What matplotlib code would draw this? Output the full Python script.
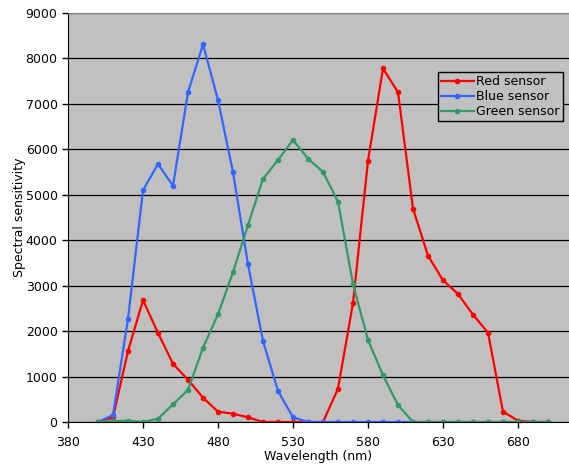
import matplotlib
matplotlib.use("Agg")
import matplotlib.pyplot as plt

wavelengths = list(range(400, 710, 10))
red = [0, 100, 1560, 2680, 1960, 1280, 930, 535, 227, 183, 103, 0, 0, 0, 0, 0,
       734, 2620, 5750, 7780, 7255, 4695, 3660, 3118, 2817, 2362, 1966, 227, 30, 0, 0]
blue = [0, 154, 2267, 5100, 5677, 5200, 7255, 8310, 7086, 5495, 3470, 1782, 682, 103, 0, 0,
        0, 0, 0, 0, 0, 0, 0, 0, 0, 0, 0, 0, 0, 0, 0]
green = [0, 20, 30, 0, 73, 389, 704, 1636, 2370, 3294, 4335, 5348, 5766, 6206, 5795, 5502,
         4848, 3037, 1805, 1027, 374, 0, 0, 0, 0, 0, 0, 0, 0, 0, 0]
series_names = ["Red sensor", "Blue sensor", "Green sensor"]
series_colors = ["#FF0000", "#3366FF", "#339966"]
x_ticks = [380, 430, 480, 530, 580, 630, 680]
y_ticks = list(range(0, 9001, 1000))

plt.rcParams['font.family'] = ['DejaVu Sans']
fig = plt.figure(figsize=(5.69, 4.65), dpi=100)
ax = fig.add_axes([68/569, 43/465, 501/569, 409/465])
ax.set_facecolor("#C0C0C0")

for vals, name, col in zip([red, blue, green], series_names, series_colors):
    ax.plot(wavelengths, vals, color=col, lw=1.6, marker='o', ms=3, label=name)

ax.set_xlim(380, 380 + 501/1.5)
ax.set_ylim(0, 9000)
ax.set_xticks(x_ticks)
ax.set_yticks(y_ticks)
ax.yaxis.grid(True, color='black', lw=0.9)
ax.set_axisbelow(True)
ax.tick_params(axis='both', direction='out', length=4, width=1, labelsize=9, colors='black')
ax.tick_params(axis='x', pad=6)
for s in ['right']:
    ax.spines[s].set_visible(False)
ax.spines['top'].set_color('#808080')
ax.spines['left'].set_color('black')
ax.spines['bottom'].set_color('black')
ax.set_xlabel("Wavelength (nm)", fontsize=9, labelpad=1)
ax.set_ylabel("Spectral sensitivity", fontsize=9, labelpad=0)

leg = ax.legend(loc='upper left', bbox_to_anchor=((438-68)/501, (422-72)/409),
                fontsize=9, frameon=True, fancybox=False, edgecolor='black',
                facecolor='#C0C0C0', framealpha=1, borderpad=0.25, labelspacing=0.15,
                handlelength=2.6, handletextpad=0.2, borderaxespad=0)
leg.get_frame().set_linewidth(1)

fig.savefig("out.png", dpi=100)
